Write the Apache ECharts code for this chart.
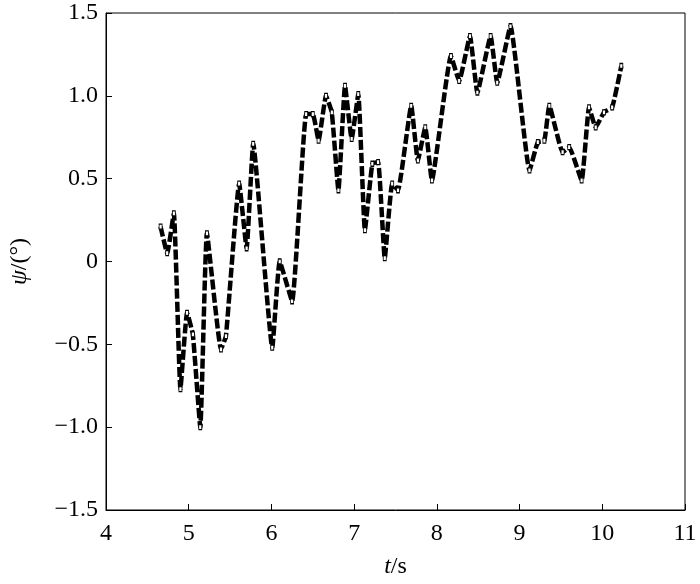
<!DOCTYPE html>
<html>
<head>
<meta charset="utf-8">
<script src="https://cdn.jsdelivr.net/npm/echarts@6/dist/echarts.min.js"></script>
<style>
  html, body { margin: 0; padding: 0; background: #fff; }
  #box { width: 700px; height: 584px; }
</style>
</head>
<body>
<div id="box"></div>
<script>
// 时间 t/s
var tValues = [4.66, 4.74, 4.82, 4.90, 4.98, 5.05, 5.14, 5.22, 5.39, 5.45, 5.61, 5.70, 5.78, 6.01, 6.10, 6.25,
  6.42, 6.50, 6.57, 6.66, 6.73, 6.81, 6.89, 6.97, 7.05, 7.13, 7.22, 7.29, 7.37, 7.46, 7.53, 7.69, 7.77,
  7.86, 7.94, 8.17, 8.27, 8.40, 8.49, 8.65, 8.73, 8.89, 9.12, 9.22, 9.30, 9.36, 9.52, 9.60, 9.75, 9.84,
  9.92, 10.02, 10.12, 10.23];
// 角度 psi/(°)
var psiValues = [0.21, 0.05, 0.29, -0.77, -0.31, -0.44, -1.00, 0.17, -0.53, -0.45, 0.47, 0.08, 0.71, -0.52, 0.00, -0.24,
  0.89, 0.89, 0.73, 1.00, 0.90, 0.43, 1.06, 0.74, 1.01, 0.19, 0.59, 0.60, 0.02, 0.47, 0.43, 0.94, 0.61,
  0.81, 0.49, 1.24, 1.09, 1.36, 1.02, 1.36, 1.08, 1.42, 0.55, 0.72, 0.73, 0.94, 0.66, 0.69, 0.49, 0.93,
  0.81, 0.90, 0.93, 1.18];
var xTickLabels = ["4", "5", "6", "7", "8", "9", "10", "11"];
var yTickLabels = ["\u22121.5", "\u22121.0", "\u22120.5", "0", "0.5", "1.0", "1.5"];

var font = "Liberation Serif";
var chart = echarts.init(document.getElementById("box"));

var data = tValues.map(function (t, i) { return [t, psiValues[i]]; });

var option = {
  backgroundColor: "#fff",
  animation: false,
  textStyle: { fontFamily: font },
  grid: {
    left: 105,
    right: 15,
    top: 13,
    bottom: 73,
    show: true,
    borderColor: "#000",
    borderWidth: 1
  },
  xAxis: {
    type: "value",
    min: 4,
    max: 11,
    interval: 1,
    name: "{i|t}/s",
    nameLocation: "middle",
    nameGap: 45,
    nameTextStyle: {
      color: "#000",
      fontFamily: font,
      fontSize: 24,
      rich: { i: { fontStyle: "italic", fontFamily: font, fontSize: 24, color: "#000" } }
    },
    axisLine: { show: true, onZero: false, lineStyle: { color: "#000", width: 1 } },
    axisTick: { show: true, inside: true, length: 6, lineStyle: { color: "#000" } },
    splitLine: { show: false },
    axisLabel: {
      color: "#000",
      fontFamily: font,
      fontSize: 24,
      margin: 12,
      formatter: function (v) { return xTickLabels[Math.round(v - 4)]; }
    }
  },
  yAxis: {
    type: "value",
    min: -1.5,
    max: 1.5,
    interval: 0.5,
    name: "{i|\u03c8}/(\u00b0)",
    nameLocation: "middle",
    nameGap: 74,
    nameRotate: 90,
    nameTextStyle: {
      color: "#000",
      fontFamily: font,
      fontSize: 24,
      rich: { i: { fontStyle: "italic", fontFamily: font, fontSize: 24, color: "#000" } }
    },
    axisLine: { show: true, onZero: false, lineStyle: { color: "#000", width: 1 } },
    axisTick: { show: true, inside: true, length: 6, lineStyle: { color: "#000" } },
    splitLine: { show: false },
    axisLabel: {
      color: "#000",
      fontFamily: font,
      fontSize: 24,
      margin: 8,
      formatter: function (v) { return yTickLabels[Math.round((v + 1.5) / 0.5)]; }
    }
  },
  series: [
    {
      type: "line",
      data: data,
      smooth: 0.12,
      symbol: "rect",
      symbolSize: [3, 5],
      showSymbol: true,
      itemStyle: { color: "#fff", borderColor: "#000", borderWidth: 1 },
      lineStyle: { color: "#000", width: 4.5, type: [10, 3] }
    }
  ]
};
chart.setOption(option);
</script>
</body>
</html>
